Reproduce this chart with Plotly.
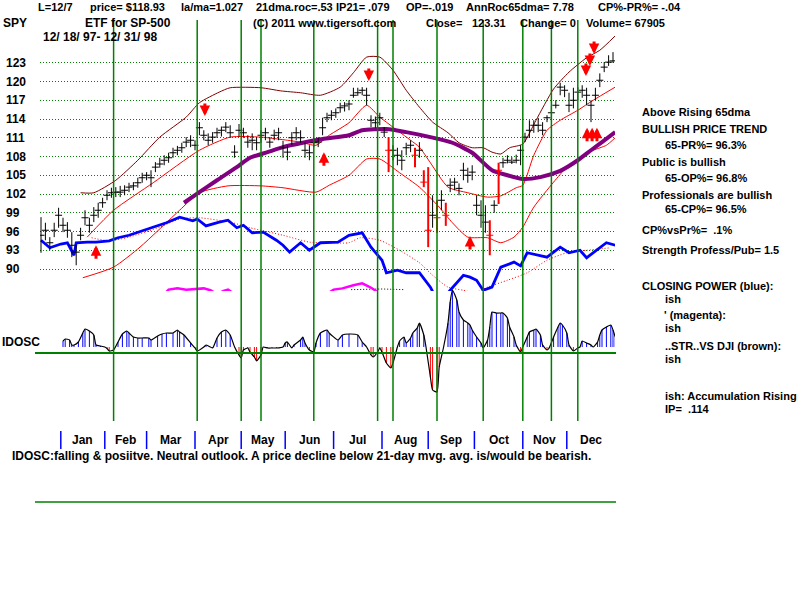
import plotly.graph_objects as go

# ---------------- data ----------------
bar_days = list(range(0, 262, 2))          # trading-day index of each drawn bar (12/18/97 .. 12/31/98)
closes = [95.4, 96.2, 94.2, 96.2, 98.6, 97.0, 96.2, 93.8, 92.7, 95.4,
          98.2, 97.0, 98.6, 99.4, 100.6, 101.8, 102.2, 102.3, 102.3, 102.6,
          103.1, 103.3, 103.8, 104.6, 105.0, 104.6, 106.3, 106.8, 107.4, 107.8,
          108.6, 109.0, 109.4, 110.3, 110.6, 109.8, 112.6, 111.4, 110.6, 111.1,
          111.8, 112.2, 112.7, 111.8, 108.7, 112.2, 111.8, 110.3, 110.6, 110.2,
          111.4, 111.8, 110.3, 111.4, 111.8, 109.4, 108.7, 111.0, 111.8, 111.0,
          109.0, 108.6, 110.2, 110.3, 112.6, 114.2, 114.6, 115.0, 115.8, 116.1,
          116.4, 117.8, 118.2, 118.6, 117.8, 113.8, 113.4, 114.2, 111.9, 109.0,
          109.0, 108.2, 107.4, 109.4, 109.8, 108.2, 109.0, 103.9, 96.2, 98.6,
          98.2, 101.0, 98.6, 103.4, 103.9, 102.9, 105.8, 105.0, 105.5, 100.2,
          98.6, 97.5, 95.4, 100.2, 105.8, 107.0, 107.4, 107.1, 107.4, 109.0,
          111.1, 112.2, 113.0, 113.0, 112.2, 114.2, 115.0, 116.2, 119.1, 118.6,
          116.2, 117.0, 118.3, 118.6, 117.8, 116.2, 117.8, 120.2, 122.3, 123.1,
          123.3]
highs = [98.3, 97.4, 95.1, 97.4, 99.8, 98.2, 97.5, 95.9, 93.8, 96.6,
         99.4, 98.2, 99.9, 100.6, 101.4, 102.6, 103.0, 103.1, 103.3, 103.4,
         103.8, 103.9, 104.6, 105.4, 105.5, 105.8, 107.1, 107.8, 108.2, 108.6,
         109.4, 109.7, 110.2, 111.1, 111.4, 110.6, 113.5, 112.2, 111.7, 111.9,
         112.6, 112.8, 113.5, 113.0, 109.8, 113.2, 112.6, 111.4, 111.7, 111.1,
         112.2, 112.6, 111.1, 112.3, 112.6, 110.5, 109.8, 111.9, 112.7, 112.2,
         110.2, 109.8, 111.0, 111.1, 114.2, 115.0, 115.4, 115.7, 116.6, 116.7,
         117.0, 119.0, 119.0, 119.1, 119.0, 114.6, 114.4, 115.0, 112.7, 111.1,
         109.8, 109.4, 109.0, 110.2, 110.6, 109.4, 110.3, 105.8, 106.3, 101.8,
         101.0, 102.6, 100.6, 104.5, 104.6, 103.7, 107.0, 106.2, 106.6, 101.8,
         101.0, 100.2, 97.8, 101.0, 107.0, 107.8, 108.2, 107.9, 108.3, 109.8,
         111.8, 113.8, 113.8, 114.2, 113.5, 114.6, 116.1, 117.0, 119.8, 119.4,
         118.2, 119.0, 119.1, 119.4, 119.0, 117.0, 119.0, 121.3, 123.1, 124.2,
         124.7]
lows = [92.6, 94.6, 93.0, 95.1, 96.6, 95.9, 95.0, 91.9, 90.6, 94.6,
        97.0, 95.8, 97.5, 98.2, 99.8, 101.0, 101.4, 101.5, 101.5, 101.8,
        102.3, 102.6, 103.0, 103.8, 104.2, 103.1, 105.5, 106.2, 106.6, 107.0,
        107.8, 108.2, 108.6, 109.5, 109.5, 109.0, 111.4, 110.6, 109.8, 110.2,
        111.0, 111.2, 111.9, 111.0, 107.8, 111.2, 111.0, 109.4, 109.0, 109.0,
        110.2, 110.6, 109.4, 110.6, 110.6, 107.8, 107.4, 109.8, 110.6, 110.2,
        107.8, 107.4, 109.5, 109.5, 111.4, 113.5, 113.8, 114.2, 115.0, 115.2,
        115.4, 117.4, 117.7, 117.8, 116.2, 112.7, 112.6, 113.0, 111.1, 105.5,
        107.4, 106.6, 105.8, 108.2, 108.7, 106.3, 107.8, 103.1, 93.5, 96.6,
        95.8, 99.4, 96.9, 102.3, 102.6, 101.8, 104.2, 103.8, 104.2, 98.6,
        96.6, 95.8, 92.2, 99.0, 100.4, 106.2, 106.9, 106.8, 106.9, 106.6,
        110.3, 111.0, 111.8, 111.9, 111.4, 113.5, 113.8, 115.7, 117.8, 117.5,
        115.1, 115.7, 117.0, 117.4, 116.2, 113.5, 117.0, 119.1, 121.5, 122.5,
        123.0]
red_bars = [79, 85, 87, 88, 90, 92, 102, 104]   # big down-days drawn in red

price_ticks = [90, 93, 96, 99, 102, 105, 108, 111, 114, 117, 120, 123]
months = ["Jan", "Feb", "Mar", "Apr", "May", "Jun", "Jul", "Aug", "Sep", "Oct", "Nov", "Dec"]
month_start_days = [9, 29, 48, 70, 91, 111, 133, 155, 176, 197, 219, 239]
last_day = 261
signal_days = [33, 71, 91, 100, 124, 153, 160, 180, 201, 219, 232, 244]

upper_band_days = [18, 24, 34, 44, 54, 66, 72, 81, 86, 100, 109, 118, 127, 136, 142, 148, 154, 160,
                   166, 172, 178, 185, 190, 196, 201, 205, 209, 213, 219, 225, 233, 240, 248, 254, 261]
upper_band = [102.2, 102.2, 104.2, 107.4, 111.1, 114.3, 116.6, 118.3, 119.0, 119.0, 118.5, 118.2, 117.8,
              119.1, 121.4, 123.9, 123.9, 121.8, 118.6, 115.9, 113.5, 111.8, 110.2, 109.4, 109.4, 108.7,
              108.4, 109.4, 110.0, 113.8, 118.8, 121.5, 123.8, 125.0, 127.3]
mid_band_days = [21, 33, 51, 72, 86, 100, 112, 118, 125, 131, 140, 148, 154, 160, 168, 172, 177, 185,
                 194, 203, 209, 216, 219, 224, 230, 236, 244, 251, 261]
mid_band = [95.1, 99.4, 103.8, 109.0, 111.1, 111.1, 110.6, 110.3, 109.8, 111.4, 113.4, 116.2, 114.3,
            112.7, 110.6, 109.5, 107.0, 103.1, 102.2, 101.5, 101.7, 103.0, 103.4, 108.2, 112.2, 113.8,
            115.4, 117.0, 119.1]
lower_band_days = [19, 33, 45, 63, 72, 85, 100, 110, 125, 131, 140, 148, 154, 163, 172, 181, 187, 194,
                   203, 209, 215, 219, 224, 233, 239, 245, 251, 257, 261]
lower_band = [88.6, 90.3, 93.5, 99.4, 102.2, 103.3, 103.3, 103.0, 102.3, 103.4, 105.0, 107.6, 107.6,
              105.4, 103.1, 99.9, 97.4, 95.1, 95.0, 94.2, 95.1, 96.7, 99.9, 103.9, 106.3, 107.9, 109.0,
              109.8, 111.0]
ma65_days = [65, 72, 80, 89, 95, 103, 110, 119, 128, 140, 146, 157, 166, 177, 187, 196, 205, 212, 219,
             227, 236, 244, 250, 255, 261]
ma65 = [100.6, 102.3, 104.2, 106.3, 107.8, 108.7, 109.5, 110.2, 110.8, 111.4, 112.2, 112.4, 111.9, 111.1,
        110.2, 108.6, 105.8, 105.0, 104.4, 104.7, 105.7, 107.4, 109.0, 110.3, 111.9]
cp_days = [0, 4, 9, 12, 15, 16, 21, 25, 31, 35, 40, 51, 57, 63, 69, 71, 75, 81, 85, 89,
           92, 96, 101, 107, 110, 113, 118, 122, 127, 135, 140, 146, 150, 155, 157, 162, 166, 172, 177, 180,
           184, 186, 192, 195, 198, 201, 204, 205, 209, 215, 218, 221, 230, 236, 240, 245, 248, 251, 255, 257,
           261]
closing_power = [94.6, 93.4, 94.0, 94.2, 92.2, 94.2, 94.3, 94.3, 94.5, 95.0, 95.4, 96.7, 97.4, 98.3, 97.7,
                 98.0, 96.9, 97.5, 97.8, 96.6, 97.0, 95.8, 95.9, 94.6, 93.8, 92.7, 94.2, 93.0, 94.2, 94.3,
                 95.4, 95.8, 93.5, 91.4, 89.4, 89.8, 89.4, 89.4, 87.1, 85.0, 85.8, 86.6, 89.0, 88.7, 88.2,
                 86.6, 87.0, 87.1, 90.3, 91.1, 90.5, 92.6, 91.9, 93.5, 92.6, 93.0, 91.8, 92.6, 93.7, 94.2,
                 93.8]
cp_ma_days = [23, 31, 40, 54, 63, 72, 87, 95, 110, 122, 131, 140, 145, 154, 163, 172, 178, 185, 192, 197,
              203, 212, 221, 230, 239, 248, 259]
cp_ma = [95.0, 94.5, 95.1, 96.7, 98.0, 98.2, 97.4, 96.6, 95.4, 94.3, 94.2, 94.2, 95.0, 94.6, 93.0, 91.0,
         89.0, 87.1, 86.6, 86.2, 87.1, 88.2, 89.4, 91.4, 92.6, 93.0, 93.4]
rs_days = [0, 55, 58, 62, 66, 71, 74, 77, 80, 83, 85, 88, 130, 133, 137, 142, 146, 149, 151, 154, 160,
           200, 261]
rel_strength = [85.0, 85.6, 86.7, 86.9, 86.7, 86.8, 86.9, 86.6, 86.0, 86.5, 86.7, 86.0, 86.0, 86.7, 86.9,
                87.4, 87.7, 87.2, 86.8, 86.0, 85.0, 84.0, 84.5]
rs_ma_days = [141, 148, 155, 160, 165]
rs_ma = [86.7, 86.8, 86.8, 86.75, 86.7]

idosc_days = [10, 11, 13, 14, 15, 17, 19, 20, 22, 24,
              25, 27, 29, 30, 31, 33, 35, 37, 39, 40,
              42, 44, 46, 49, 50, 53, 55, 57, 60, 62,
              63, 65, 68, 70, 71, 74, 75, 78, 80, 82,
              84, 86, 88, 90, 91, 92, 94, 95, 97, 98,
              100, 101, 103, 105, 107, 110, 111, 112, 114, 115,
              118, 119, 120, 122, 124, 125, 127, 130, 131, 135,
              137, 140, 144, 146, 148, 150, 151, 153, 154, 155,
              157, 159, 160, 162, 163, 165, 166, 168, 169, 171,
              172, 174, 175, 177, 178, 180, 181, 183, 185, 186,
              187, 189, 190, 192, 194, 195, 196, 198, 200, 201,
              203, 204, 205, 207, 209, 210, 212, 213, 215, 216,
              218, 219, 221, 222, 224, 225, 227, 228, 230, 231,
              233, 235, 236, 237, 239, 240, 242, 244, 245, 246,
              248, 250, 251, 253, 254, 255, 257, 259, 260, 261]
idosc = [6, 8, 7, 2, 2, 5, 14, 18, 16, 12,
         2, 1, 0, -1.5, -4, -3, 5, 13, 16, 14,
         10, 9, 9, 9, 7, 11, 13, 14, 14, 17,
         15, 12, 4, -1, -4, 0, 2, -1, 9, 15,
         17, 12, 0, -8, -11, -3, -1, -5, -10, -14,
         -8, 0, -1, -1, -1, 0, 4, 5, -1, 2,
         7, 10, 4, -3, -5, 4, 14, 17, 14, 7,
         12, 13, 12, 5, 0, -8, -10, -5, -1, -5,
         -16, -21, -16, 0, 6, 10, 4, 9, 14, 19,
         24, 12, 0, -30, -43, -45, -20, 0, 24, 45,
         57, 47, 35, 27, 24, 22, 17, 10, 4, -1,
         7, 20, 35, 34, 34, 34, 29, 20, 10, 2,
         -5, 0, 10, 15, 17, 18, 12, 2, -3, -1,
         10, 20, 24, 22, 14, 2, -4, -1, 0, 6,
         4, 2, 0, 5, 12, 17, 20, 22, 17, 10]

up_arrow_days = [25, 128.6, 195, 248.2, 250.5, 252.7]
up_arrow_tips = [93.8, 108.7, 95.3, 112.6, 112.6, 112.6]
down_arrow_days = [74.5, 149, 251.4, 249.5, 247.7]
down_arrow_tips = [114.5, 120.1, 124.4, 122.5, 120.9]

# ---------------- helpers (layout only) ----------------
W, H = 800, 600
FONT = "Liberation Sans, Arial, sans-serif"
GREEN = "#008000"


def xp(px):
    return px / W


def yp(py):
    return 1 - py / H


def segments(xs, y0s, y1s):
    sx, sy = [], []
    for x, a, b in zip(xs, y0s, y1s):
        sx += [x, x, None]
        sy += [a, b, None]
    return sx, sy


def label(text, xpx, ypx, size=12, anchor="left"):
    return dict(text=text, x=xp(xpx), y=yp(ypx), xref="paper", yref="paper", xanchor=anchor,
                yanchor="middle", showarrow=False, borderpad=0,
                font=dict(family=FONT, size=size, color="black", weight="bold"))


fig = go.Figure()
skip = dict(hoverinfo="skip", showlegend=False)

# bands and averages
fig.add_trace(go.Scatter(x=upper_band_days, y=upper_band, mode="lines",
                         line=dict(color="#800000", width=1, shape="spline", smoothing=0.6), **skip))
fig.add_trace(go.Scatter(x=mid_band_days, y=mid_band, mode="lines",
                         line=dict(color="#ff0000", width=1, shape="spline", smoothing=0.6), **skip))
fig.add_trace(go.Scatter(x=lower_band_days, y=lower_band, mode="lines",
                         line=dict(color="#ff0000", width=1, shape="spline", smoothing=0.6), **skip))
fig.add_trace(go.Scatter(x=cp_ma_days, y=cp_ma, mode="lines",
                         line=dict(color="#ff0000", width=1, dash="1px,2px", shape="spline", smoothing=0.6), **skip))
fig.add_trace(go.Scatter(x=rs_ma_days, y=rs_ma, mode="lines",
                         line=dict(color="black", width=1, dash="1px,2px"), **skip))
fig.add_trace(go.Scatter(x=rs_days, y=rel_strength, mode="lines",
                         line=dict(color="#ff00ff", width=2.5), **skip))
fig.add_trace(go.Scatter(x=ma65_days, y=ma65, mode="lines",
                         line=dict(color="#800080", width=4, shape="spline", smoothing=0.6), **skip))
fig.add_trace(go.Scatter(x=cp_days, y=closing_power, mode="lines",
                         line=dict(color="#0000ff", width=2.8), **skip))

# price bars
black_idx = [k for k in range(len(bar_days)) if k not in red_bars]
for idx, col, w in ((black_idx, "black", 1), (red_bars, "#ff0000", 2)):
    sx, sy = segments([bar_days[k] for k in idx], [lows[k] for k in idx], [highs[k] for k in idx])
    fig.add_trace(go.Scatter(x=sx, y=sy, mode="lines", line=dict(color=col, width=w), **skip))
    fig.add_trace(go.Scatter(x=[bar_days[k] for k in idx], y=[closes[k] for k in idx], mode="markers",
                             marker=dict(symbol="line-ew", size=5, line=dict(width=1, color=col)), **skip))

# IDOSC panel
pos = [(d, v) for d, v in zip(idosc_days, idosc) if v >= 0]
neg = [(d, v) for d, v in zip(idosc_days, idosc) if v < 0]
for part, col in ((pos, "#0000ff"), (neg, "#ff0000")):
    sx, sy = segments([d for d, _ in part], [0] * len(part), [v for _, v in part])
    fig.add_trace(go.Scatter(x=sx, y=sy, mode="lines", line=dict(color=col, width=1),
                             xaxis="x", yaxis="y2", **skip))
fig.add_trace(go.Scatter(x=idosc_days, y=idosc, mode="lines",
                         line=dict(color="black", width=1.2, shape="spline", smoothing=0.5),
                         xaxis="x", yaxis="y2", **skip))

# month tick marks
sx, sy = segments(month_start_days, [0] * 12, [1] * 12)
fig.add_trace(go.Scatter(x=sx, y=sy, mode="lines", line=dict(color="#0000ff", width=1.5),
                         xaxis="x", yaxis="y3", **skip))

# ---------------- shapes ----------------
shapes = []
for d in signal_days:
    shapes.append(dict(type="line", xref="x", yref="paper", x0=d, x1=d, y0=yp(421), y1=yp(20),
                       line=dict(color=GREEN, width=1.5), layer="above"))
shapes.append(dict(type="line", xref="paper", yref="paper", x0=xp(35), x1=xp(616), y0=yp(353), y1=yp(353),
                   line=dict(color=GREEN, width=2)))
shapes.append(dict(type="line", xref="paper", yref="paper", x0=xp(35), x1=xp(616), y0=yp(502), y1=yp(502),
                   line=dict(color=GREEN, width=1.5)))

# ---------------- annotations ----------------
ann = []
# header line 1
for t, x in [("L=12/7", 37), ("price= $118.93", 89), ("la/ma=1.027", 180), ("21dma.roc=.53", 255),
             ("IP21= .079", 335), ("OP=-.019", 405), ("AnnRoc65dma= 7.78", 465), ("CP%-PR%= -.04", 597)]:
    ann.append(label(t, x, 7, size=11))
for t, x in [("SPY", 2), ("ETF for SP-500", 84), ("(C) 2011 www.tigersoft.com", 252), ("Close=", 425),
             ("123.31", 471), ("Change= 0", 519), ("Volume= 67905", 585)]:
    ann.append(label(t, x, 23, size=12 if t in ("SPY", "ETF for SP-500") else 11))
ann.append(label("12/ 18/ 97- 12/ 31/ 98", 42, 37))

# price axis labels (left aligned)
for v in price_ticks:
    ann.append(dict(text=str(v), x=xp(5), y=v, xref="paper", yref="y", xanchor="left", yanchor="middle",
                    showarrow=False, borderpad=0, font=dict(family=FONT, size=12, color="black", weight="bold")))

# month labels centered in each month
month_ends = month_start_days[1:] + [last_day]
for m, a, b in zip(months, month_start_days, month_ends):
    ann.append(dict(text=m, x=(a + b) / 2, y=yp(440), xref="x", yref="paper", xanchor="center",
                    yanchor="middle", showarrow=False, borderpad=0,
                    font=dict(family=FONT, size=12, color="black", weight="bold")))

ann.append(label("IDOSC", 1, 342))
ann.append(label("IDOSC:falling &amp; posiitve. Neutral outlook. A price decline below 21-day mvg. avg. is/would be bearish.", 11, 456))

# right-hand commentary
for t, x, y in [("Above Rising 65dma", 641, 112), ("BULLISH PRICE TREND", 641, 129),
                ("65-PR%= 96.3%", 664, 145), ("Public is bullish", 641, 162), ("65-OP%= 96.8%", 664, 178),
                ("Professionals are bullish", 641, 195), ("65-CP%= 96.5%", 664, 209),
                ("CP%vsPr%=  .1%", 641, 230), ("Strength Profess/Pub= 1.5", 641, 250),
                ("CLOSING POWER (blue):", 641, 286), ("ish", 664, 299), ("' (magenta):", 663, 315),
                ("ish", 664, 328), ("..STR..VS DJI (brown):", 664, 346), ("ish", 664, 359),
                ("ish: Accumulation Rising", 664, 396), ("IP=  .114", 664, 409)]:
    ann.append(label(t, x, y, size=11))

# signal arrows
for d, p in zip(up_arrow_days, up_arrow_tips):
    ann.append(dict(x=d, y=p, xref="x", yref="y", ax=0, ay=15, text="", showarrow=True, arrowhead=2,
                    arrowsize=0.7, arrowwidth=3, arrowcolor="#ff0000", standoff=0))
for d, p in zip(down_arrow_days, down_arrow_tips):
    ann.append(dict(x=d, y=p, xref="x", yref="y", ax=0, ay=-14, text="", showarrow=True, arrowhead=2,
                    arrowsize=0.7, arrowwidth=3, arrowcolor="#ff0000", standoff=0))

fig.update_layout(
    width=W, height=H, margin=dict(l=0, r=0, t=0, b=0),
    paper_bgcolor="white", plot_bgcolor="rgba(0,0,0,0)", showlegend=False,
    xaxis=dict(domain=[xp(40), xp(615)], range=[(40 - 41) / 2.2, (615 - 41) / 2.2], visible=False),
    yaxis=dict(domain=[yp(291), yp(20)], range=[86.48, 129.84], tickvals=price_ticks, showticklabels=False,
               ticks="", showgrid=True, gridcolor=GREEN, griddash="1px,2px", gridwidth=1, zeroline=False,
               showline=False),
    yaxis2=dict(domain=[yp(421), yp(285)], range=[-74, 62], visible=False),
    yaxis3=dict(domain=[yp(449), yp(431)], range=[0, 1], visible=False),
    shapes=shapes, annotations=ann,
)

fig.write_html("out.html")
